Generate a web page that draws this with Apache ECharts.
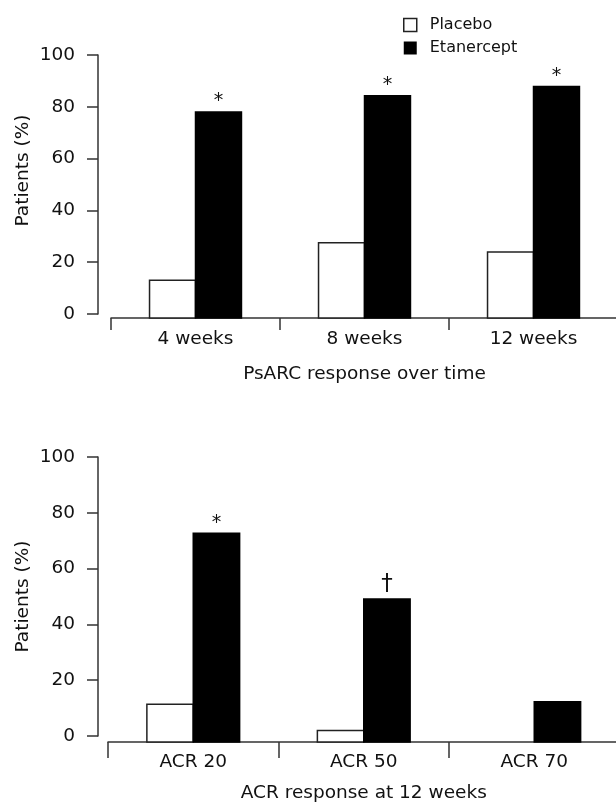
<!DOCTYPE html>
<html>
<head>
<meta charset="utf-8">
<script src="https://cdn.jsdelivr.net/npm/echarts@6/dist/echarts.min.js"></script>
<style>
  html, body { margin: 0; padding: 0; background: #fff; }
  #chart { width: 616px; height: 804px; }
</style>
</head>
<body>
<div id="chart"></div>
<script>
// ---- data ----
const seriesNames = ['Placebo', 'Etanercept'];
const topCategories = ['4 weeks', '8 weeks', '12 weeks'];
const topPlacebo = [13, 27.5, 23.9];
const topEtanercept = [78, 84.3, 87.8];
const topMarks = ['*', '*', '*'];
const topXTitle = 'PsARC response over time';

const bottomCategories = ['ACR 20', 'ACR 50', 'ACR 70'];
const bottomPlacebo = [11.4, 2.0, 0];
const bottomEtanercept = [72.7, 49.1, 12.3];
const bottomMarks = ['*', '\u2020', ''];
const bottomXTitle = 'ACR response at 12 weeks';

const yTitle = 'Patients (%)';
const yMin = 0, yMax = 100, yInterval = 20;

// ---- styling ----
const FONT = 'DejaVu Sans';
const TXT = '#111';
const AX = '#333';
const BAR_RATIO = 0.272;

function toPairs(arr) { return arr.map((v, i) => [i, v]); }

function barRenderer(side, fill, stroke, baseMin, marks) {
  return function (params, api) {
    const c = api.value(0);
    const v = api.value(1);
    if (!(v > 0)) return null;
    const topPt = api.coord([c, v]);
    const basePt = api.coord([c, baseMin]);
    const band = api.size([1, 0])[0];
    const w = band * BAR_RATIO;
    const x = side < 0 ? topPt[0] - w : topPt[0];
    const children = [{
      type: 'rect',
      shape: { x: x, y: topPt[1], width: w, height: basePt[1] - topPt[1] },
      style: { fill: fill, stroke: stroke, lineWidth: 1.5 }
    }];
    const m = marks ? marks[params.dataIndex] : '';
    if (m) {
      const isStar = m === '*';
      children.push({
        type: 'text',
        x: x + w / 2,
        y: topPt[1] - (isStar ? 1 : 3),
        style: { text: m, fill: TXT, font: (isStar ? 19 : 23) + 'px "' + FONT + '"', align: 'center', verticalAlign: 'bottom' }
      });
    }
    return { type: 'group', children: children };
  };
}

const topBaseMin = -1.544;
const botBaseMin = -2.15;

function catAxis(gridIndex, cats, tickLen, labelMargin, title, nameGap) {
  return {
    type: 'category', gridIndex: gridIndex, data: cats,
    axisLine: { show: true, onZero: false, lineStyle: { color: AX, width: 1.5 } },
    axisTick: { show: true, length: tickLen, inside: false, interval: 0, lineStyle: { color: AX, width: 1.5 } },
    axisLabel: { show: true, interval: 0, margin: labelMargin, fontSize: 18.5, color: TXT, fontFamily: FONT },
    name: title, nameLocation: 'middle', nameGap: nameGap,
    nameTextStyle: { fontSize: 18.5, color: TXT, fontFamily: FONT },
    splitLine: { show: false }
  };
}
function valAxis(gridIndex, padShift) {
  return {
    type: 'value', gridIndex: gridIndex, min: yMin, max: yMax, interval: yInterval,
    axisLine: { show: true, onZero: false, lineStyle: { color: AX, width: 1.5 } },
    axisTick: { show: true, length: 11, inside: false, lineStyle: { color: AX, width: 1.5 } },
    axisLabel: { show: true, margin: 23, fontSize: 18.5, color: TXT, fontFamily: FONT },
    splitLine: { show: false },
    name: yTitle, nameLocation: 'middle', nameGap: 65,
    nameTextStyle: { fontSize: 18.5, color: TXT, fontFamily: FONT, padding: [0, 0, 0, padShift] }
  };
}

const chart = echarts.init(document.getElementById('chart'), null, { renderer: 'canvas' });
chart.setOption({
  backgroundColor: '#fff',
  animation: false,
  textStyle: { fontFamily: FONT, color: TXT },
  legend: {
    orient: 'vertical', left: 403, top: 17, padding: 0,
    itemWidth: 13, itemHeight: 13, itemGap: 7, icon: 'rect',
    textStyle: { fontSize: 16, color: TXT, fontFamily: FONT, padding: [0, 0, 0, 8] },
    data: [
      { name: seriesNames[0], itemStyle: { color: '#fff', borderColor: '#222', borderWidth: 1.5 } },
      { name: seriesNames[1], itemStyle: { color: '#000', borderColor: '#000', borderWidth: 0 } }
    ]
  },
  grid: [
    { left: 111, top: 55, width: 507, height: 263, outerBoundsMode: 'none' },
    { left: 98, top: 55, width: 10, height: 259, outerBoundsMode: 'none' },
    { left: 108, top: 457, width: 511.5, height: 285, outerBoundsMode: 'none' },
    { left: 98, top: 457, width: 10, height: 279, outerBoundsMode: 'none' }
  ],
  xAxis: [
    catAxis(0, topCategories, 12, 12, topXTitle, 47),
    { type: 'value', gridIndex: 1, show: false },
    catAxis(2, bottomCategories, 16, 11, bottomXTitle, 42),
    { type: 'value', gridIndex: 3, show: false }
  ],
  yAxis: [
    { type: 'value', gridIndex: 0, min: topBaseMin, max: yMax, show: false },
    valAxis(1, 28),
    { type: 'value', gridIndex: 2, min: botBaseMin, max: yMax, show: false },
    valAxis(3, 0)
  ],
  series: [
    { type: 'custom', name: seriesNames[0], xAxisIndex: 0, yAxisIndex: 0, data: toPairs(topPlacebo),
      encode: { x: 0, y: 1 }, itemStyle: { color: '#fff', borderColor: '#222' },
      renderItem: barRenderer(-1, '#fff', '#222', topBaseMin, null) },
    { type: 'custom', name: seriesNames[1], xAxisIndex: 0, yAxisIndex: 0, data: toPairs(topEtanercept),
      encode: { x: 0, y: 1 }, itemStyle: { color: '#000' },
      renderItem: barRenderer(1, '#000', '#000', topBaseMin, topMarks) },
    { type: 'custom', name: seriesNames[0], xAxisIndex: 2, yAxisIndex: 2, data: toPairs(bottomPlacebo),
      encode: { x: 0, y: 1 }, itemStyle: { color: '#fff', borderColor: '#222' },
      renderItem: barRenderer(-1, '#fff', '#222', botBaseMin, null) },
    { type: 'custom', name: seriesNames[1], xAxisIndex: 2, yAxisIndex: 2, data: toPairs(bottomEtanercept),
      encode: { x: 0, y: 1 }, itemStyle: { color: '#000' },
      renderItem: barRenderer(1, '#000', '#000', botBaseMin, bottomMarks) }
  ]
});
</script>
</body>
</html>
